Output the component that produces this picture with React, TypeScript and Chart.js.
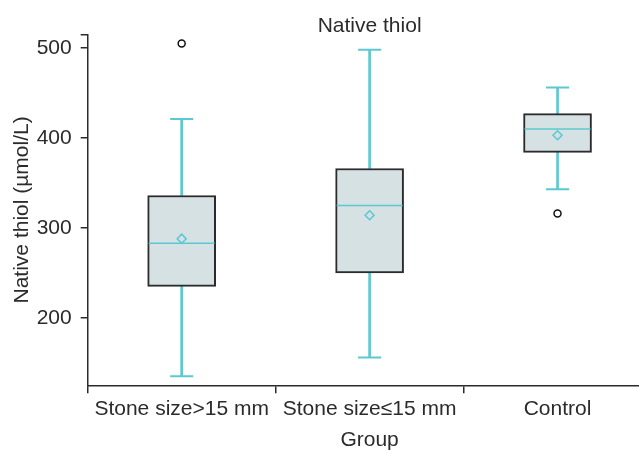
import React, { useEffect, useRef } from "react";
import { Chart, registerables } from "chart.js";

Chart.register(...registerables);

const categories = ["Stone size>15 mm", "Stone size\u226415 mm", "Control"];
const whiskerLow = [135, 156, 343];
const q1 = [235, 250, 384];
const median = [283, 325, 410];
const q3 = [336, 366, 427];
const whiskerHigh = [421, 498, 456];
const means = [288, 314, 403];
const outliers: (number | null)[] = [505, null, 316];
const yTicks = [200, 300, 400, 500];
const yMin = 125;
const yMax = 515;

const TEAL = "#5cc8d0";
const DARK = "#2b2b2b";
const BOXFILL = "#d5e1e3";
const FONT = "'Liberation Sans', Arial, sans-serif";

export default function App() {
  const ref = useRef<HTMLCanvasElement>(null);
  useEffect(() => {
    document.body.style.margin = "0";
    const ctx = ref.current!;
    const chart = new Chart(ctx, {
      type: "bar",
      data: {
        labels: categories,
        datasets: [
          {
            type: "bar",
            data: q1.map((v, i) => [v, q3[i]]),
            backgroundColor: BOXFILL,
            borderColor: DARK,
            borderWidth: 2,
            borderSkipped: false,
            barThickness: 68,
            grouped: false,
            order: 10,
          } as any,
          {
            type: "bar",
            data: q3.map((v, i) => [v, whiskerHigh[i]]),
            backgroundColor: TEAL,
            borderWidth: 0,
            barThickness: 2,
            grouped: false,
            order: 11,
          } as any,
          {
            type: "bar",
            data: whiskerLow.map((v, i) => [v, q1[i]]),
            backgroundColor: TEAL,
            borderWidth: 0,
            barThickness: 2,
            grouped: false,
            order: 11,
          } as any,
          {
            type: "line",
            data: whiskerHigh,
            showLine: false,
            pointStyle: "line",
            pointRadius: 11.5,
            borderColor: TEAL,
            pointBorderWidth: 2,
            order: 2,
          } as any,
          {
            type: "line",
            data: whiskerLow,
            showLine: false,
            pointStyle: "line",
            pointRadius: 11.5,
            borderColor: TEAL,
            pointBorderWidth: 2,
            order: 2,
          } as any,
          {
            type: "line",
            data: median,
            showLine: false,
            pointStyle: "line",
            pointRadius: 33,
            borderColor: TEAL,
            pointBorderWidth: 1.5,
            order: 2,
          } as any,
          {
            type: "line",
            data: means,
            showLine: false,
            pointStyle: "rectRot",
            pointRadius: 4.5,
            borderColor: TEAL,
            backgroundColor: "rgba(0,0,0,0)",
            pointBorderWidth: 1.5,
            order: 1,
          } as any,
          {
            type: "line",
            data: outliers,
            showLine: false,
            pointStyle: "circle",
            pointRadius: 3.5,
            borderColor: "#111",
            backgroundColor: "#fff",
            pointBorderWidth: 1.5,
            order: 0,
          } as any,
        ],
      },
      options: {
        responsive: false,
        animation: false,
        devicePixelRatio: 1,
        layout: { padding: 0 },
        plugins: {
          legend: { display: false },
          tooltip: { enabled: false },
          title: {
            display: true,
            text: "Native thiol",
            fullSize: false,
            color: DARK,
            font: { family: FONT, size: 21, weight: "normal" },
            padding: { top: 12.5, bottom: -4.6 },
          },
        },
        scales: {
          x: {
            offset: true,
            border: { display: true, color: DARK, width: 1.5 },
            grid: {
              display: true,
              offset: true,
              drawOnChartArea: false,
              drawTicks: true,
              tickLength: 8,
              color: DARK,
              lineWidth: 1.5,
            },
            ticks: {
              color: DARK,
              font: { family: FONT, size: 21 },
              padding: 3,
              maxRotation: 0,
              autoSkip: false,
            },
            title: {
              display: true,
              text: "Group",
              color: DARK,
              font: { family: FONT, size: 21 },
              padding: { top: 0, bottom: 0 },
            },
            afterFit: (s: any) => {
              s.height = 67.7;
            },
          },
          y: {
            min: yMin,
            max: yMax,
            border: { display: true, color: DARK, width: 1.5 },
            grid: {
              display: true,
              drawOnChartArea: false,
              drawTicks: true,
              tickLength: 7,
              color: DARK,
              lineWidth: 1.5,
            },
            ticks: {
              color: DARK,
              font: { family: FONT, size: 21 },
              padding: 9,
              callback: (v: any) => (yTicks.includes(Number(v)) ? String(v) : ""),
            },
            afterBuildTicks: (s: any) => {
              s.ticks = [...yTicks, yMax].map((v) => ({ value: v }));
            },
            title: {
              display: true,
              text: "Native thiol (\u00b5mol/L)",
              color: DARK,
              font: { family: FONT, size: 21 },
              padding: { top: 9.4, bottom: 0 },
            },
            afterFit: (s: any) => {
              s.width = 87.7;
            },
          },
        },
      } as any,
    });
    return () => chart.destroy();
  }, []);
  return (
    <div style={{ width: 639, height: 453, overflow: "hidden", position: "relative", background: "#fff" }}>
      <canvas ref={ref} width={686} height={453} style={{ display: "block" }} />
    </div>
  );
}
